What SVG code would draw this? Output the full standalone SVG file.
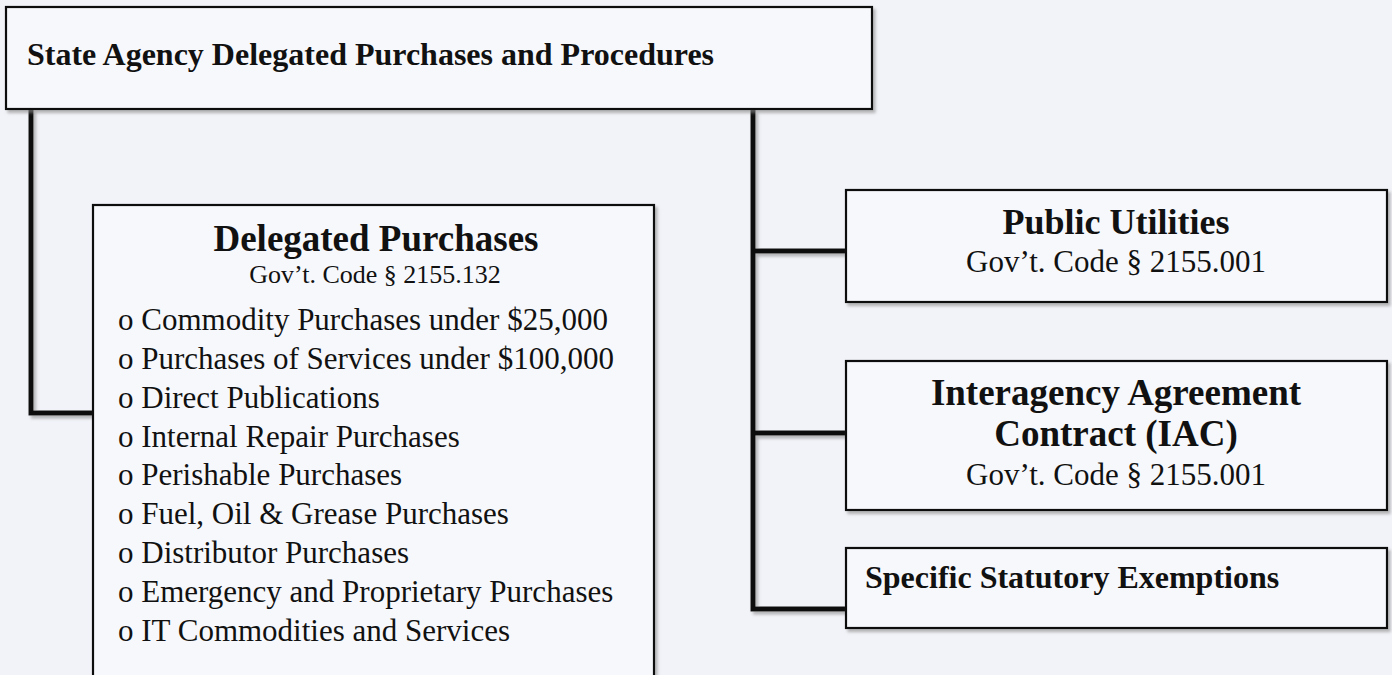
<svg xmlns="http://www.w3.org/2000/svg" width="1392" height="675" viewBox="0 0 1392 675">
  <defs>
    <filter id="sh" x="-5%" y="-5%" width="115%" height="130%">
      <feDropShadow dx="2.5" dy="3" stdDeviation="1.5" flood-color="#888" flood-opacity="0.6"/>
    </filter>
    <style>
      .box { fill: #f7f8fb; stroke: #111; stroke-width: 2.2; }
      .conn { fill: none; stroke: #111; stroke-width: 5; stroke-linejoin: miter; }
      .t { font-family: "Liberation Serif", "Times New Roman", serif; fill: #111; }
      .b { font-weight: bold; }
      .c { text-anchor: middle; }
    </style>
  </defs>
  <rect x="0" y="0" width="1392" height="675" fill="#f2f3f8"/>

  <g id="connectors" filter="url(#sh)">
    <path class="conn" d="M31,109 V413 H93"/>
    <path class="conn" d="M753,110 V609 H846"/>
    <path class="conn" d="M753,251 H846"/>
    <path class="conn" d="M753,433 H846"/>
  </g>

  <g id="root">
    <rect class="box" x="6" y="7" width="866" height="102" filter="url(#sh)"/>
    <text class="t b" x="27" y="65" font-size="32">State Agency Delegated Purchases and Procedures</text>
  </g>

  <g id="delegated">
    <rect class="box" x="93" y="205" width="561" height="500" filter="url(#sh)"/>
    <text class="t b c" x="376" y="251" font-size="37">Delegated Purchases</text>
    <text class="t c" x="375" y="283" font-size="26">Gov’t. Code § 2155.132</text>
    <g class="t" font-size="31">
      <text x="118" y="330">o Commodity Purchases under $25,000</text>
      <text x="118" y="369">o Purchases of Services under $100,000</text>
      <text x="118" y="408">o Direct Publications</text>
      <text x="118" y="447">o Internal Repair Purchases</text>
      <text x="118" y="485">o Perishable Purchases</text>
      <text x="118" y="524">o Fuel, Oil &amp; Grease Purchases</text>
      <text x="118" y="563">o Distributor Purchases</text>
      <text x="118" y="602">o Emergency and Proprietary Purchases</text>
      <text x="118" y="641">o IT Commodities and Services</text>
    </g>
  </g>

  <g id="public-utilities">
    <rect class="box" x="846" y="190" width="541" height="112" filter="url(#sh)"/>
    <text class="t b c" x="1116" y="234" font-size="36">Public Utilities</text>
    <text class="t c" x="1116" y="272" font-size="31">Gov’t. Code § 2155.001</text>
  </g>

  <g id="iac">
    <rect class="box" x="846" y="361" width="541" height="149" filter="url(#sh)"/>
    <text class="t b c" x="1116" y="405" font-size="37">Interagency Agreement</text>
    <text class="t b c" x="1116" y="446" font-size="37">Contract (IAC)</text>
    <text class="t c" x="1116" y="485" font-size="31">Gov’t. Code § 2155.001</text>
  </g>

  <g id="exemptions">
    <rect class="box" x="846" y="548" width="541" height="80" filter="url(#sh)"/>
    <text class="t b" x="865" y="588" font-size="32">Specific Statutory Exemptions</text>
  </g>
</svg>
